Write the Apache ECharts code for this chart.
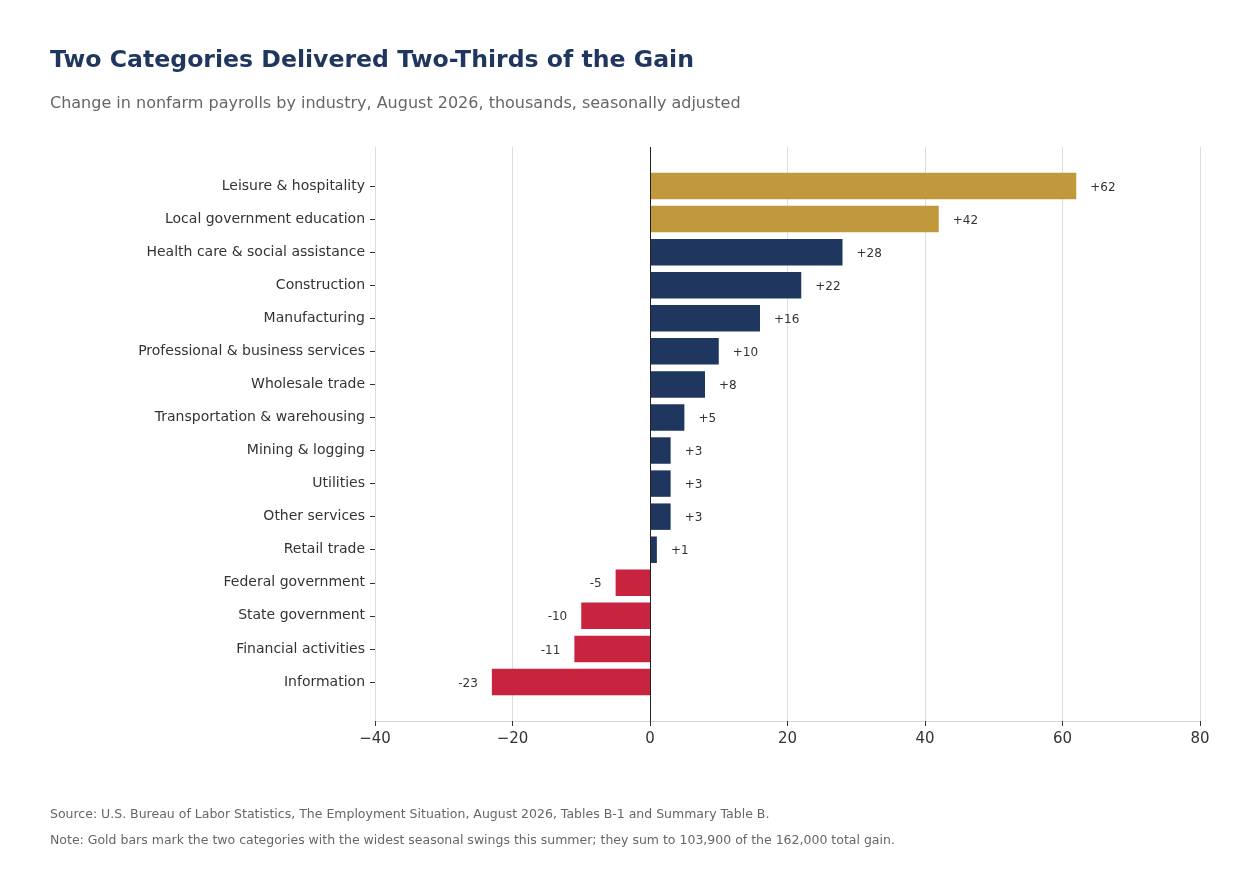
<!DOCTYPE html>
<html>
<head>
<meta charset="utf-8">
<script src="https://cdn.jsdelivr.net/npm/echarts@6/dist/echarts.min.js"></script>
<style>
html,body{margin:0;padding:0;background:#fff;}
#chart{width:1250px;height:869px;}
</style>
</head>
<body>
<div id="chart"></div>
<script>
const categories = [
  "Leisure & hospitality",
  "Local government education",
  "Health care & social assistance",
  "Construction",
  "Manufacturing",
  "Professional & business services",
  "Wholesale trade",
  "Transportation & warehousing",
  "Mining & logging",
  "Utilities",
  "Other services",
  "Retail trade",
  "Federal government",
  "State government",
  "Financial activities",
  "Information"
];
const values = [62, 42, 28, 22, 16, 10, 8, 5, 3, 3, 3, 1, -5, -10, -11, -23];
const highlighted = ["Leisure & hospitality", "Local government education"];
const xTicks = { min: -40, max: 80, interval: 20 };

const GOLD = "#C1993D", NAVY = "#1F365F", RED = "#C9243F";
const FONT = "DejaVu Sans";

const barData = values.map((v, i) => {
  const isGold = highlighted.includes(categories[i]);
  return {
    value: v,
    itemStyle: { color: isGold ? GOLD : (v >= 0 ? NAVY : RED) },
    label: {
      show: true,
      position: v >= 0 ? "right" : "left",
      distance: 14,
      offset: [0, 1.5],
      formatter: (v > 0 ? "+" : "") + v,
      fontFamily: FONT, fontSize: 12, color: "#333"
    }
  };
});

const chart = echarts.init(document.getElementById("chart"), null, { renderer: "canvas" });
chart.setOption({
  animation: false,
  backgroundColor: "#fff",
  textStyle: { fontFamily: FONT },
  title: [
    { text: "Two Categories Delivered Two-Thirds of the Gain", left: 45, top: 44,
      textStyle: { fontFamily: FONT, fontSize: 23.6, fontWeight: "bold", color: "#1F365F" } },
    { text: "Change in nonfarm payrolls by industry, August 2026, thousands, seasonally adjusted", left: 45, top: 91,
      textStyle: { fontFamily: FONT, fontSize: 16, fontWeight: "normal", color: "#666" } },
    { text: "Source: U.S. Bureau of Labor Statistics, The Employment Situation, August 2026, Tables B-1 and Summary Table B.", left: 45, top: 803,
      textStyle: { fontFamily: FONT, fontSize: 12.5, fontWeight: "normal", color: "#666" } },
    { text: "Note: Gold bars mark the two categories with the widest seasonal swings this summer; they sum to 103,900 of the 162,000 total gain.", left: 45, top: 829,
      textStyle: { fontFamily: FONT, fontSize: 12.5, fontWeight: "normal", color: "#666" } }
  ],
  grid: [
    { left: 375, right: 50, top: 147, bottom: 148, containLabel: false },
    { left: 375, right: 50, top: 169.5, bottom: 170.5, containLabel: false }
  ],
  xAxis: [
    { gridIndex: 0, type: "value", min: xTicks.min, max: xTicks.max, interval: xTicks.interval,
      axisLine: { show: true, lineStyle: { color: "#D6D6D6", width: 1 } },
      axisTick: { show: true, length: 5, lineStyle: { color: "#333" } },
      axisLabel: { fontFamily: FONT, fontSize: 15, color: "#333", margin: 11,
        formatter: v => (v < 0 ? "\u2212" + Math.abs(v) : String(v)) },
      splitLine: { show: true, lineStyle: { color: "#DDDDDD", width: 1 } } },
    { gridIndex: 1, type: "value", min: xTicks.min, max: xTicks.max, interval: xTicks.interval, show: false }
  ],
  yAxis: [
    { gridIndex: 0, type: "value", show: false, min: 0, max: 1 },
    { gridIndex: 1, type: "category", data: categories, inverse: true, position: "left",
      axisLine: { show: false, onZero: false },
      axisTick: { show: true, alignWithLabel: true, length: 5, lineStyle: { color: "#333" } },
      axisLabel: { fontFamily: FONT, fontSize: 14, color: "#333", margin: 10, padding: [5, 0, 0, 0] },
      splitLine: { show: false } }
  ],
  series: [
    { type: "scatter", xAxisIndex: 0, yAxisIndex: 0, data: [], silent: true,
      markLine: { silent: true, symbol: "none", label: { show: false },
        lineStyle: { color: "#222", width: 1, type: "solid" },
        data: [{ xAxis: 0 }] } },
    { type: "bar", xAxisIndex: 1, yAxisIndex: 1, data: barData, barWidth: "80%", z: 3 }
  ]
});
</script>
</body>
</html>
